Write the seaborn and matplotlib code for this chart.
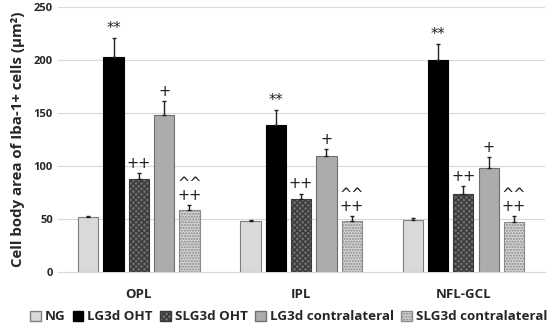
import numpy as np
import pandas as pd
import matplotlib
matplotlib.use('Agg')
import matplotlib.pyplot as plt
import seaborn as sns

# Data
layers = ['OPL', 'IPL', 'NFL-GCL']
groups = ['NG', 'LG3d OHT', 'SLG3d OHT', 'LG3d contralateral', 'SLG3d contralateral']
ng = [52, 48, 49]
lg_oht = [203, 139, 200]
slg_oht = [88, 69, 74]
lg_contra = [148, 109, 98]
slg_contra = [59, 48, 47]
ng_err = [1, 1, 2]
lg_oht_err = [17, 14, 15]
slg_oht_err = [5, 5, 7]
lg_contra_err = [13, 7, 10]
slg_contra_err = [4, 5, 6]
marks = ['', '**', '++', '+', '^^\n++']

means = [ng, lg_oht, slg_oht, lg_contra, slg_contra]
errs = [ng_err, lg_oht_err, slg_oht_err, lg_contra_err, slg_contra_err]

df = pd.DataFrame({
    'layer': np.tile(layers, len(groups)),
    'group': np.repeat(groups, len(layers)),
    'area': np.concatenate(means),
})

sns.set_style('white')
plt.rcParams['font.family'] = ['Open Sans', 'DejaVu Sans']

face = ['#d9d9d9', '#000000', '#6e6e6e', '#aeaaaa', '#d4d4d4']
edge = ['#7f7f7f', '#000000', '#3a3a3a', '#6f6f6f', '#8a8a8a']
hatch = ['', '', 'xxxxxx', '', '......']

fig, ax = plt.subplots(figsize=(5.5, 3.28), dpi=100)
sns.barplot(data=df, x='layer', y='area', hue='group', order=layers, hue_order=groups,
            palette=face, width=0.78, gap=0.2, errorbar=None, ax=ax, zorder=3)

bar_containers = list(ax.containers)
for gi, cont in enumerate(bar_containers):
    for li, bar in enumerate(cont):
        bar.set_edgecolor(edge[gi])
        bar.set_linewidth(0.8)
        if hatch[gi]:
            bar.set_hatch(hatch[gi])
        xc = bar.get_x() + bar.get_width() / 2
        top = bar.get_height()
        e = errs[gi][li]
        ax.errorbar(xc, top, yerr=[[0], [e]], fmt='none', ecolor='#222222',
                    elinewidth=1, capsize=1.5, capthick=1, zorder=4)
        if marks[gi]:
            ax.text(xc, top + e + 2, marks[gi], ha='center', va='bottom',
                    fontsize=10.5, linespacing=0.75, color='#222222',
                    family='DejaVu Sans')

ax.set_ylim(0, 250)
ax.set_xlim(-0.5, 2.5)
ax.set_yticks(range(0, 251, 50))
ax.yaxis.grid(True, color='#d9d9d9', linewidth=0.8, zorder=0)
ax.tick_params(axis='both', length=0)
for lab in ax.get_yticklabels():
    lab.set_fontweight('bold')
    lab.set_fontsize(8)
for lab in ax.get_xticklabels():
    lab.set_fontweight('bold')
    lab.set_fontsize(9.5)
ax.tick_params(axis='x', pad=11)
ax.set_xlabel('')
ax.set_ylabel('Cell body area of Iba-1+ cells (µm²)', fontsize=10.8, fontweight='bold',
              labelpad=6)
sns.despine(ax=ax, left=True)
ax.spines['bottom'].set_color('#d9d9d9')

handles, labels = ax.get_legend_handles_labels()
for gi, h in enumerate(handles):
    h.set_edgecolor(edge[gi])
    if hatch[gi]:
        h.set_hatch(hatch[gi])
ax.legend_.remove()
fig.legend(handles, labels, loc='lower center', bbox_to_anchor=(0.525, -0.012), ncol=5,
           frameon=False, prop={'weight': 'bold', 'size': 9.6}, handlelength=0.8,
           handleheight=0.8, handletextpad=0.3, columnspacing=0.55, borderpad=0.15)

plt.subplots_adjust(left=0.105, right=0.99, top=0.98, bottom=0.17)
fig.savefig('out.png', dpi=100)
